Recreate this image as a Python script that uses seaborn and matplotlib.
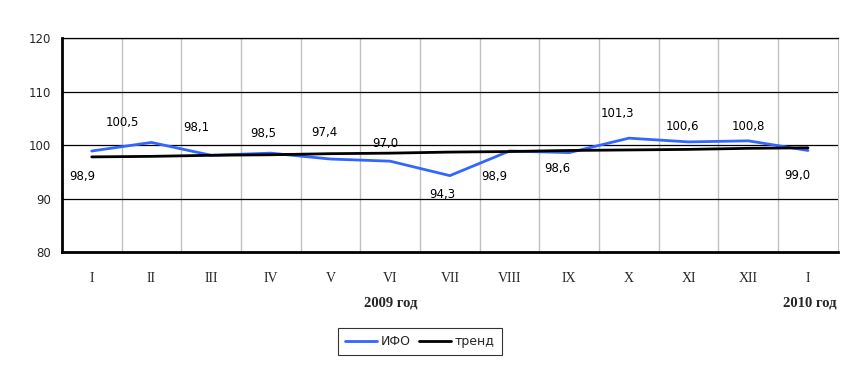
import numpy as np
import pandas as pd
import matplotlib
matplotlib.use('Agg')
import matplotlib.pyplot as plt
import seaborn as sns

# данные
months = ['I', 'II', 'III', 'IV', 'V', 'VI', 'VII', 'VIII', 'IX', 'X', 'XI', 'XII', 'I']
ifo = [98.9, 100.5, 98.1, 98.5, 97.4, 97.0, 94.3, 98.9, 98.6, 101.3, 100.6, 100.8, 99.0]
trend = [97.8, 97.9, 98.1, 98.2, 98.4, 98.5, 98.7, 98.8, 99.0, 99.1, 99.2, 99.4, 99.5]
yticks = [80, 90, 100, 110, 120]

# смещения подписей (пиксели)
lbl_dx = [-9, -29, -15, -8, -6, -5, -8, -15, -12, -12, -6, 0, -11]
lbl_dy = [-25, 20, 28, 20, 27, 18, -19, -25, -16, 25, 15, 14, -25]

sns.set_style('white')
plt.rcParams['font.family'] = ['DejaVu Sans']

df = pd.DataFrame({'x': np.arange(len(months)), 'ИФО': ifo, 'тренд': trend})

fig = plt.figure(figsize=(8.48, 3.66), dpi=100)
ax = fig.add_axes([0.073, 0.311, 0.915, 0.585])

# вертикальные линии сетки
for b in np.arange(0.5, len(months) - 0.5, 1):
    ax.axvline(b, color='#c0c0c0', lw=1, zorder=0)
for yv in yticks[1:]:
    ax.axhline(yv, color='black', lw=0.9, zorder=0)

sns.lineplot(data=df, x='x', y='ИФО', color='#3366ff', lw=2, ax=ax, label='ИФО')
sns.lineplot(data=df, x='x', y='тренд', color='black', lw=2, ax=ax, label='тренд')

for i, v in enumerate(ifo):
    ax.annotate(f'{v:.1f}'.replace('.', ','), (i, v), xytext=(lbl_dx[i], lbl_dy[i]),
                textcoords='offset pixels', ha='center', va='center', fontsize=8.5,
                color='black')

ax.set_xlim(-0.5, len(months) - 0.5)
ax.set_ylim(80, 120)
ax.set_yticks(yticks)
ax.set_yticklabels([str(t) for t in yticks], fontsize=8.5)
ax.set_xticks(np.arange(len(months)))
ax.set_xticklabels(months, fontsize=10, family='Liberation Serif')
ax.set_xticks(np.arange(-0.5, len(months), 1), minor=True)
ax.tick_params(axis='x', which='major', length=0, pad=14)
ax.tick_params(axis='x', which='minor', length=5, width=2, direction='out', color='black')
ax.tick_params(axis='y', length=5, width=2, direction='out', color='black', pad=3)
ax.set_xlabel('')
ax.set_ylabel('')

ax.spines['left'].set_linewidth(2)
ax.spines['left'].set_color('black')
ax.spines['bottom'].set_linewidth(2)
ax.spines['bottom'].set_color('black')
ax.spines['right'].set_color('#c0c0c0')
ax.spines['top'].set_color('black')
ax.spines['top'].set_linewidth(0.9)

fig.text(0.461, 0.172, '2009 год', ha='center', va='center', fontsize=10.5,
         fontweight='bold', family='Liberation Serif')
fig.text(0.986, 0.172, '2010 год', ha='right', va='center', fontsize=10.5,
         fontweight='bold', family='Liberation Serif')

ax.get_legend().remove()
h, l = ax.get_legend_handles_labels()
leg = fig.legend(h, l, loc='center', bbox_to_anchor=(0.495, 0.066), ncol=2,
                 frameon=True, fancybox=False, fontsize=9, handlelength=2.6,
                 columnspacing=0.6, handletextpad=0.3, borderpad=0.55,
                 borderaxespad=0)
leg.get_frame().set_edgecolor('black')
leg.get_frame().set_linewidth(0.8)

fig.savefig('out.png', dpi=100)
